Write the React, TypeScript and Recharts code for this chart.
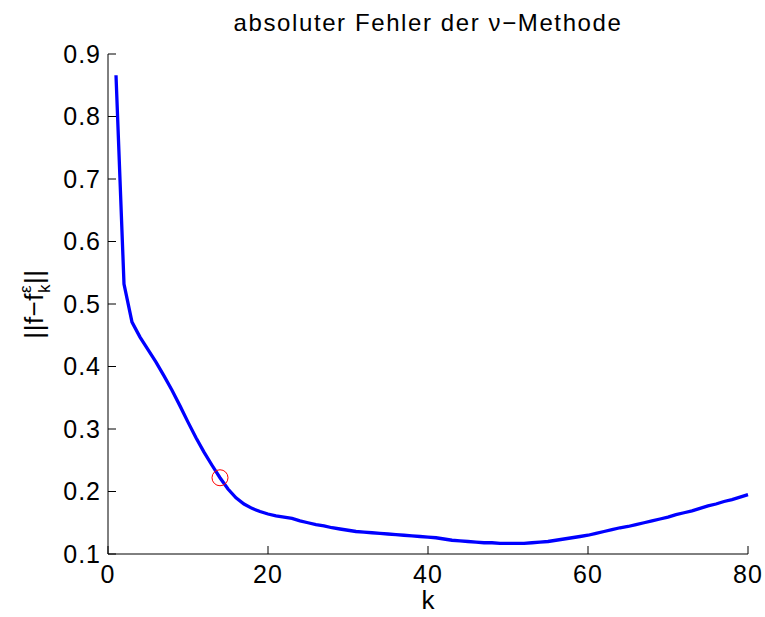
import { LineChart, Line, XAxis, YAxis } from "recharts"

const kValues = Array.from({ length: 80 }, (_, i) => i + 1)

const errValues = [
  0.866, 0.532, 0.471, 0.447, 0.427, 0.407, 0.385, 0.362, 0.337, 0.311,
  0.286, 0.263, 0.242, 0.222, 0.204, 0.19, 0.18, 0.173, 0.168, 0.164,
  0.161, 0.159, 0.157, 0.153, 0.15, 0.147, 0.145, 0.142, 0.14, 0.138,
  0.136, 0.135, 0.134, 0.133, 0.132, 0.131, 0.13, 0.129, 0.128, 0.127,
  0.126, 0.124, 0.122, 0.121, 0.12, 0.119, 0.118, 0.118, 0.117, 0.117,
  0.117, 0.117, 0.118, 0.119, 0.12, 0.122, 0.124, 0.126, 0.128, 0.13,
  0.133, 0.136, 0.139, 0.142, 0.144, 0.147, 0.15, 0.153, 0.156, 0.159,
  0.163, 0.166, 0.169, 0.173, 0.177, 0.18, 0.184, 0.187, 0.191, 0.195,
]

// chosen stopping index (red circle)
const markK = 14

const xTicks = [0, 20, 40, 60, 80]
const yTicks = [0.1, 0.2, 0.3, 0.4, 0.5, 0.6, 0.7, 0.8, 0.9]

const data = kValues.map((k, i) => ({
  k,
  err: errValues[i],
  mark: k === markK ? errValues[i] : null,
}))

const font = "'Liberation Sans', Arial, Helvetica, sans-serif"
const blank = () => ""
const tickStyle = { fill: "#000", fontSize: 25, fontFamily: font, letterSpacing: 1 }

export default function App() {
  return (
    <div style={{ position: "absolute", left: 0, top: 0, fontFamily: font }}>
      <LineChart
        width={765}
        height={617}
        data={data}
        margin={{ top: 54, right: 17, bottom: 4, left: 0 }}
      >
        <text
          x={428}
          y={31}
          textAnchor="middle"
          fontSize={24}
          letterSpacing={1.6}
          fontFamily={font}
          fill="#000"
        >
          absoluter Fehler der ν−Methode
        </text>
        <XAxis
          dataKey="k"
          type="number"
          domain={[0, 80]}
          ticks={xTicks}
          height={59}
          tickSize={-8}
          tickMargin={19}
          stroke="#000"
          tick={tickStyle}
          label={{
            content: ({ viewBox }: any) => (
              <text
                x={viewBox.x + viewBox.width / 2}
                y={viewBox.y + 55}
                textAnchor="middle"
                fontSize={26}
                fontFamily={font}
                fill="#000"
              >
                k
              </text>
            ),
          }}
        />
        <XAxis
          xAxisId="top"
          dataKey="k"
          type="number"
          orientation="top"
          domain={[0, 80]}
          ticks={xTicks}
          height={0}
          tickSize={-8}
          tickFormatter={blank}
          stroke="#000"
        />
        <YAxis
          type="number"
          domain={[0.1, 0.9]}
          ticks={yTicks}
          width={108}
          tickSize={-8}
          tickMargin={15}
          stroke="#000"
          tick={tickStyle}
          label={{
            content: ({ viewBox }: any) => {
              const cx = 43
              const cy = viewBox.y + viewBox.height / 2
              return (
                <text
                  x={cx}
                  y={cy}
                  transform={`rotate(-90, ${cx}, ${cy})`}
                  textAnchor="middle"
                  fontSize={26}
                  letterSpacing={0.5}
                  fontFamily={font}
                  fill="#000"
                >
                  <tspan>||f−f</tspan>
                  <tspan fontSize={17} dy={-12}>ε</tspan>
                  <tspan fontSize={17} dx={-8} dy={19}>k</tspan>
                  <tspan dy={-7}>||</tspan>
                </text>
              )
            },
          }}
        />
        <YAxis
          yAxisId="right"
          type="number"
          orientation="right"
          domain={[0.1, 0.9]}
          ticks={yTicks}
          width={0}
          tickSize={-8}
          tickFormatter={blank}
          stroke="#000"
        />
        <Line
          dataKey="err"
          type="linear"
          stroke="#0000ff"
          strokeWidth={3.3}
          dot={false}
          isAnimationActive={false}
        />
        <Line
          dataKey="mark"
          stroke="none"
          dot={{ r: 8, stroke: "#ff0000", strokeWidth: 1, fill: "none" }}
          isAnimationActive={false}
        />
      </LineChart>
    </div>
  )
}
